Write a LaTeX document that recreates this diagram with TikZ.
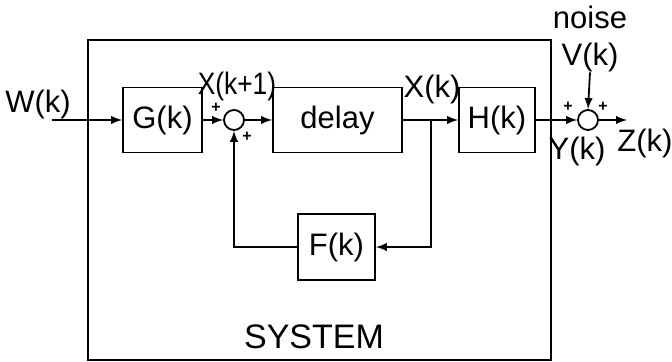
\documentclass[tikz,border=0pt]{standalone}
\usepackage{fontspec}
\setsansfont{Liberation Sans}
\begin{document}
\begin{tikzpicture}[x=0.5pt,y=-0.5pt,>=latex,line width=0.9pt,
  blk/.style={draw,inner sep=0pt,minimum height=32.5pt,font=\sffamily\fontsize{15.5}{17}\selectfont},
  sum/.style={draw,circle,minimum size=10pt,inner sep=0pt},
  lbl/.style={inner sep=0pt,font=\sffamily\fontsize{15.5}{17}\selectfont},
  pm/.style={inner sep=0pt,font=\sffamily\bfseries\fontsize{8}{8}\selectfont}]
\useasboundingbox (0,0) rectangle (672,362);
% system frame
\node[draw,minimum width=231.5pt,minimum height=160pt] (system) at (319.5,200) {};
\node[lbl,font=\sffamily\fontsize{17}{19}\selectfont] (syslabel) at (314,337) {SYSTEM};
% blocks
\node[blk,minimum width=39.5pt] (G) at (162.5,120) {G(k)};
\node[sum] (sumA) at (234,120) {};
\node[blk,minimum width=64.5pt] (delay) at (337.5,120) {delay};
\node[blk,minimum width=38pt] (H) at (497,120) {H(k)};
\node[blk,minimum width=38.5pt,minimum height=33pt] (F) at (336.5,247) {F(k)};
\node[sum] (sumB) at (588,120) {};
% signals
\node[lbl] (W) at (38,104) {W(k)};
\coordinate (win) at (52,120);
\node[lbl,xscale=0.85] (xk1) at (237,86) {X(k+1)};
\node[lbl] (xk) at (432,89) {X(k)};
\coordinate (br) at (431,120);
\node[lbl] (noise) at (590,17) {noise};
\node[lbl] (V) at (590,57) {V(k)};
\node[lbl] (Y) at (577,151) {Y(k)};
\node[lbl] (Z) at (645,143) {Z(k)};
\coordinate (zout) at (627,120);
% signs
\node[pm] (pA1) at (216,108) {+};
\node[pm] (pA2) at (247,137) {+};
\node[pm] (pB1) at (568,107) {+};
\node[pm] (pB2) at (603,107) {+};
% connectors
\draw[->] (win) -- (G.west);
\draw[->] (G.east) -- (sumA.west);
\draw[->] (sumA.east) -- (delay.west);
\draw[->] (delay.east) -- (H.west);
\draw[->] (br) |- (F.east);
\draw[->] (F.west) -| (sumA.south);
\draw[->] (H.east) -- (sumB.west);
\draw[->] (V.south) -- (sumB.north);
\draw[->] (sumB.east) -- (zout);
\end{tikzpicture}
\end{document}
